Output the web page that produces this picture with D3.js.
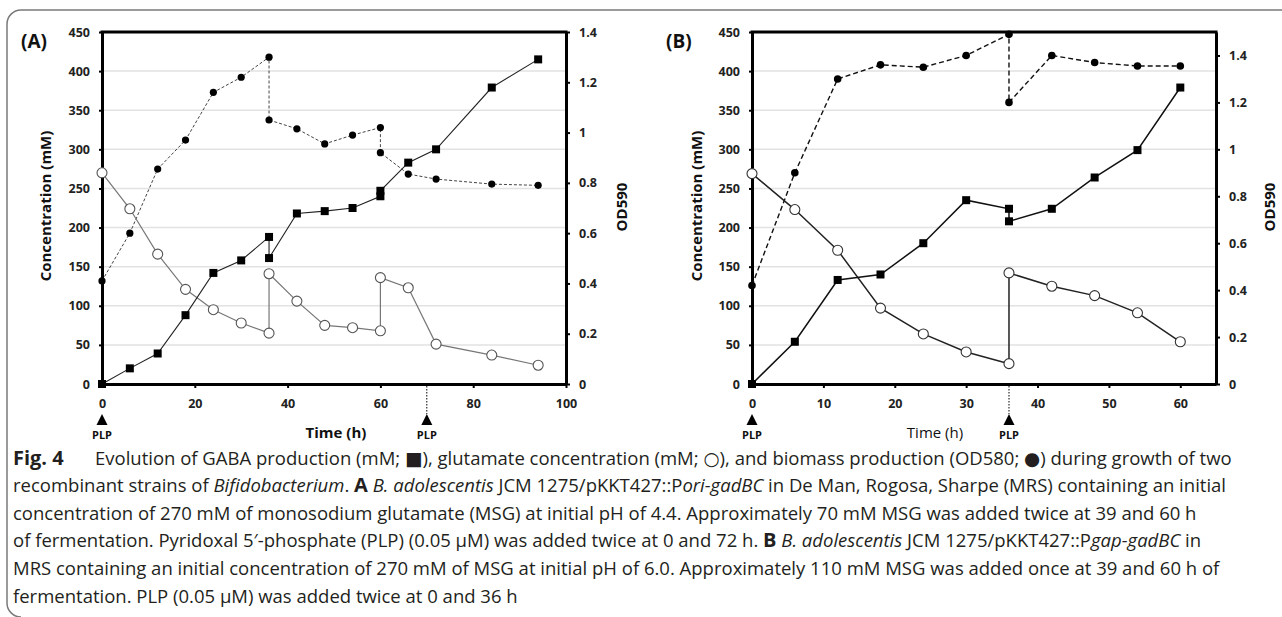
<!DOCTYPE html>
<html><head><meta charset="utf-8">
<script src="https://cdn.jsdelivr.net/npm/d3@7"></script>
<style>body{margin:0;background:#fff;} svg{display:block;}</style>
</head><body><svg id="c" width="1282" height="617"></svg>
<script>
// ---------- DATA ----------
// Panel A
const aTime = [0,6,12,18,24,30,36,36,42,48,54,60,60,66,72,84,94];
const aGaba = [0,20,39,88,142,158,188,161,218,221,225,240,247,283,300,379,415];
const aGlu  = [270,224,166,121,95,78,65,141,106,75,72,68,136,123,51,37,24];
const aOD   = [0.41,0.60,0.855,0.97,1.16,1.22,1.30,1.05,1.015,0.955,0.99,1.02,0.92,0.835,0.815,0.795,0.79];
const aTimeTicks = [0,20,40,60,80,100];
const aPLP = [0,70];
// Panel B
const bTime = [0,6,12,18,24,30,36,36,42,48,54,60];
const bGaba = [0,54,133,140,180,235,224,208,224,264,299,379];
const bGlu  = [269,223,171,97,64,41,26,142,125,113,91,54];
const bOD   = [0.42,0.90,1.30,1.36,1.35,1.40,1.49,1.20,1.40,1.37,1.355,1.355];
const bTimeTicks = [0,10,20,30,40,50,60];
const bPLP = [0,36];
// Shared tick labels
const concTicks = [0,50,100,150,200,250,300,350,400,450];
const odTicks = [0,0.2,0.4,0.6,0.8,1,1.2,1.4];

const svg = d3.select('#c');
const F = "'Open Sans', 'DejaVu Sans', sans-serif";
svg.append('rect').attr('width',1282).attr('height',617).attr('fill','#fff');

// outer frame
svg.append('path')
  .attr('d','M1282,10 H21 A14,14 0 0 0 7,24 V603 A14,14 0 0 0 21,617')
  .attr('fill','none').attr('stroke','#7a7a7a').attr('stroke-width',1.5);

function panel(c){
  const g = svg.append('g');
  const x = d3.scaleLinear().domain([0,c.xMax]).range([c.L,c.R]);
  const y = d3.scaleLinear().domain([0,450]).range([c.B,c.T]);
  const y2 = d3.scaleLinear().domain([0,c.odMax]).range([c.B,c.T]);

  // gridlines
  g.selectAll('.grid').data(concTicks.filter(d=>d>0 && d<450)).join('line')
    .attr('x1',c.L).attr('x2',c.R).attr('y1',d=>y(d)).attr('y2',d=>y(d))
    .attr('stroke','#e2e2e2').attr('stroke-width',1.5);

  const styleAxis = (sel)=>{
    sel.select('.domain').attr('stroke','#000').attr('stroke-width',3);
    sel.selectAll('.tick line').attr('stroke','#000').attr('stroke-width',2);
    sel.selectAll('.tick text').attr('font-family',F).attr('font-weight','bold')
      .attr('font-size',12.5).attr('fill','#222');
  };
  g.append('g').attr('transform',`translate(0,${c.B})`)
    .call(d3.axisBottom(x).tickValues(c.xTicks).tickSize(4).tickSizeOuter(0).tickPadding(11))
    .call(styleAxis);
  g.append('g').attr('transform',`translate(${c.L},0)`)
    .call(d3.axisLeft(y).tickValues(concTicks).tickSize(3).tickSizeOuter(0).tickPadding(9))
    .call(styleAxis);
  g.append('g').attr('transform',`translate(${c.R},0)`)
    .call(d3.axisRight(y2).tickValues(odTicks).tickFormat(d=>String(+d.toFixed(1))).tickSize(4).tickSizeOuter(0).tickPadding(9))
    .call(styleAxis);
  g.append('line').attr('x1',c.L-1.5).attr('x2',c.R+1.5).attr('y1',c.T).attr('y2',c.T)
    .attr('stroke','#000').attr('stroke-width',3);

  // lines
  const lineC = d3.line().x((d,i)=>x(c.time[i])).y(d=>y(d));
  const lineO = d3.line().x((d,i)=>x(c.time[i])).y(d=>y2(d));
  g.append('path').attr('d',lineO(c.od)).attr('fill','none')
    .attr('stroke',c.bioStroke).attr('stroke-width',c.bioW).attr('stroke-dasharray',c.dash);
  g.append('path').attr('d',lineC(c.glu)).attr('fill','none')
    .attr('stroke',c.gluStroke).attr('stroke-width',c.gluW);
  g.append('path').attr('d',lineC(c.gaba)).attr('fill','none')
    .attr('stroke',c.gabaStroke).attr('stroke-width',c.gabaW);

  // markers
  g.selectAll('.bio').data(c.od).join('circle')
    .attr('cx',(d,i)=>x(c.time[i])).attr('cy',d=>y2(d)).attr('r',c.bioR).attr('fill','#000');
  g.selectAll('.glu').data(c.glu).join('circle')
    .attr('cx',(d,i)=>x(c.time[i])).attr('cy',d=>y(d)).attr('r',5)
    .attr('fill','#fff').attr('stroke',c.gluMark).attr('stroke-width',1.1);
  const s = c.sq;
  g.selectAll('.gaba').data(c.gaba).join('rect')
    .attr('x',(d,i)=>x(c.time[i])-s/2).attr('y',d=>y(d)-s/2).attr('width',s).attr('height',s)
    .attr('fill','#000');

  // PLP arrows
  c.plp.forEach(t=>{
    const px = x(t);
    if (t>0) g.append('line').attr('x1',px).attr('x2',px).attr('y1',c.B+2).attr('y2',c.B+30)
      .attr('stroke','#000').attr('stroke-width',1).attr('stroke-dasharray','1.5,1.5');
    g.append('path').attr('d',`M${px},414 L${px+5.5},425 L${px-5.5},425 Z`).attr('fill','#000');
    g.append('text').attr('x',px).attr('y',439).attr('text-anchor','middle')
      .attr('font-family',F).attr('font-weight','bold').attr('font-size',11).attr('fill','#111').text('PLP');
  });

  // titles
  g.append('text').attr('transform',`translate(${c.yLabX},206) rotate(-90)`)
    .attr('text-anchor','middle').attr('dy','0.35em').attr('font-family',F).attr('font-weight','bold')
    .attr('font-size',15).attr('fill','#111').text('Concentration (mM)');
  g.append('text').attr('transform',`translate(${c.y2LabX},207) rotate(-90)`)
    .attr('text-anchor','middle').attr('dy','0.35em').attr('font-family',F).attr('font-weight','bold')
    .attr('font-size',15).attr('fill','#111').text('OD590');
  g.append('text').attr('x',c.timeX).attr('y',438).attr('text-anchor','middle')
    .attr('font-family',F).attr('font-weight',c.timeBold?'bold':'normal')
    .attr('font-size',15).attr('fill','#111').text('Time (h)');
  g.append('text').attr('x',c.tagX).attr('y',48).attr('font-family',F).attr('font-weight','bold')
    .attr('font-size',19).attr('fill','#111').text(c.tag);
}

panel({L:102,R:566,T:32,B:384,xMax:100,odMax:1.4,xTicks:aTimeTicks,time:aTime,gaba:aGaba,glu:aGlu,od:aOD,
  plp:aPLP,gabaStroke:'#222',gabaW:1.1,gluStroke:'#777',gluW:1.2,gluMark:'#555',bioStroke:'#444',bioW:1,dash:'3,2',
  bioR:3.6,sq:8,yLabX:46,y2LabX:622,timeX:336,timeBold:true,tag:'(A)',tagX:21});
panel({L:752,R:1216,T:32,B:384,xMax:65,odMax:1.5,xTicks:bTimeTicks,time:bTime,gaba:bGaba,glu:bGlu,od:bOD,
  plp:bPLP,gabaStroke:'#111',gabaW:1.5,gluStroke:'#222',gluW:1.5,gluMark:'#333',bioStroke:'#111',bioW:1.4,dash:'5,3',
  bioR:3.8,sq:8,yLabX:697,y2LabX:1270,timeX:935,timeBold:false,tag:'(B)',tagX:666});

// ---------- CAPTION ----------
const capLines = [
  [["Fig. 4","b"],["Evolution of GABA production (mM; ","",95],["■",""],["), glutamate concentration (mM; ",""],["○",""],["), and biomass production (OD580; ",""],["●",""],[") during growth of two",""]],
  [["recombinant strains of ",""],["Bifidobacterium","i"],[". ",""],["A","b"],[" ",""],["B. adolescentis","i"],[" JCM 1275/pKKT427::P",""],["ori-gadBC","i"],[" in De Man, Rogosa, Sharpe (MRS) containing an initial",""]],
  [["concentration of 270 mM of monosodium glutamate (MSG) at initial pH of 4.4. Approximately 70 mM MSG was added twice at 39 and 60 h",""]],
  [["of fermentation. Pyridoxal 5′-phosphate (PLP) (0.05 μM) was added twice at 0 and 72 h. ",""],["B","b"],[" ",""],["B. adolescentis","i"],[" JCM 1275/pKKT427::P",""],["gap-gadBC","i"],[" in",""]],
  [["MRS containing an initial concentration of 270 mM of MSG at initial pH of 6.0. Approximately 110 mM MSG was added once at 39 and 60 h of",""]],
  [["fermentation. PLP (0.05 μM) was added twice at 0 and 36 h",""]]
];
const capY = [465,492,520,547,575,603];
const capTexts = capLines.map((parts,i)=>{
  const t = svg.append('text').attr('x',13).attr('y',capY[i]).attr('font-family',F)
    .attr('font-size',17).attr('fill','#231f20');
  parts.forEach(p=>{
    const ts = t.append('tspan').text(p[0]);
    if (p[1]==='b') ts.attr('font-weight','bold').attr('font-size','1.08em');
    if (p[1]==='i') ts.attr('font-style','italic');
    if (p[2]!==undefined) ts.attr('x',p[2]);
  });
  return t;
});
const w6 = capTexts[5].node().getComputedTextLength();
const fs = 17*505/w6;
capTexts.forEach(t=>t.attr('font-size',fs));
</script>
</body></html>
